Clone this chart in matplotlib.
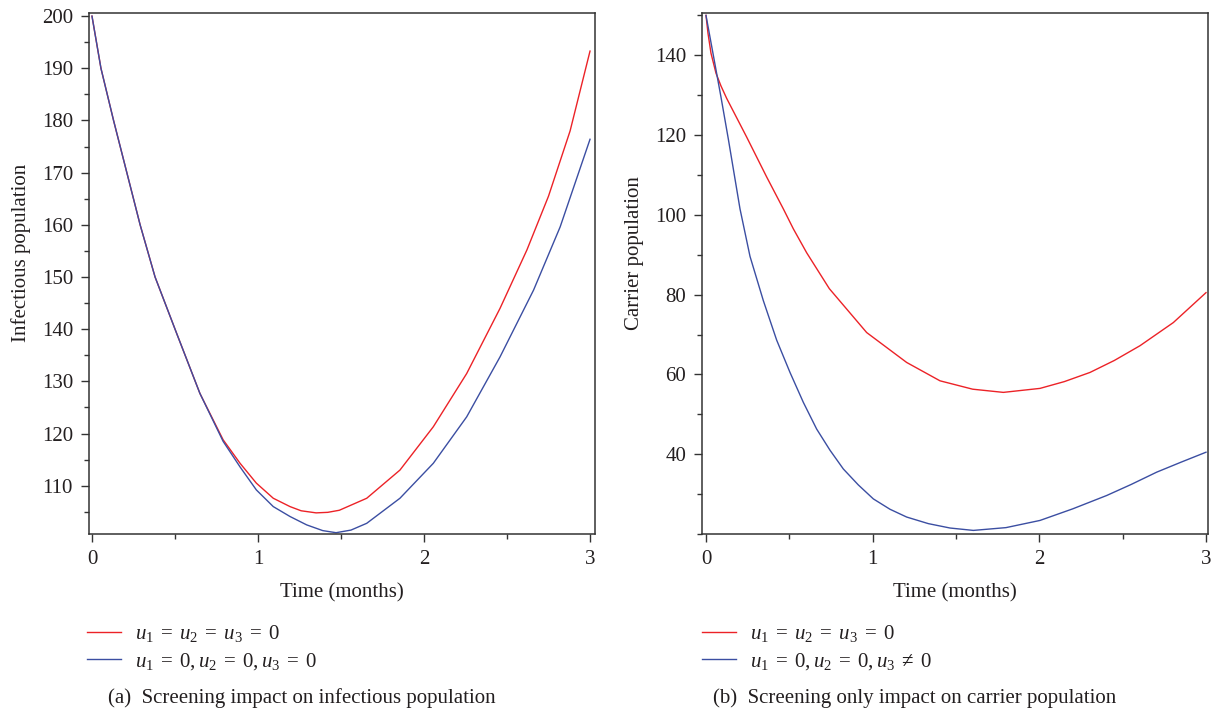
import matplotlib
matplotlib.use("Agg")
import matplotlib.pyplot as plt
from matplotlib.ticker import MultipleLocator

plt.rcParams['font.family'] = ['Liberation Serif', 'DejaVu Serif']
plt.rcParams['mathtext.fontset'] = 'custom'
plt.rcParams['mathtext.rm'] = 'Liberation Serif'
plt.rcParams['mathtext.it'] = 'Liberation Serif:italic'

# ---------------- data ----------------
# (a) infectious population
t_a_red = [0, 0.054, 0.13, 0.21, 0.29, 0.38, 0.51, 0.65, 0.79, 0.892, 0.99, 1.092,
           1.193, 1.26, 1.35, 1.42, 1.49, 1.655, 1.855, 2.056, 2.257, 2.458, 2.62,
           2.75, 2.88, 3.0]
infect_red = [200, 190, 180, 170, 160, 150, 139.2, 127.7, 118.8, 114.3, 110.5, 107.6,
              106.0, 105.2, 104.8, 104.9, 105.3, 107.6, 113.0, 121.3, 131.5, 144.0, 155.2,
              165.5, 178.0, 193.3]
t_a_blue = [0, 0.054, 0.13, 0.21, 0.29, 0.38, 0.51, 0.65, 0.79, 0.892, 0.99, 1.092,
            1.193, 1.293, 1.39, 1.47, 1.56, 1.655, 1.855, 2.056, 2.257, 2.458,
            2.66, 2.82, 3.0]
infect_blue = [200, 190, 180, 170, 160, 150, 139.2, 127.7, 118.5, 113.6, 109.2, 106.0,
               104.1, 102.5, 101.4, 101.0, 101.5, 102.8, 107.6, 114.3, 123.2, 134.7,
               147.5, 159.6, 176.4]

# (b) carrier population
t_b_red = [0, 0.012, 0.03, 0.06, 0.09, 0.124, 0.244, 0.364, 0.464, 0.524, 0.604, 0.74,
           0.964, 1.204, 1.404, 1.6, 1.784, 2.004, 2.15, 2.304, 2.45, 2.604, 2.804, 3.0]
carrier_red = [150, 145.5, 140.5, 135.5, 132.3, 129.2, 119.5, 109.5, 101.5, 96.5, 90.5, 81.5,
               70.5, 63.0, 58.4, 56.3, 55.5, 56.5, 58.2, 60.5, 63.5, 67.2, 73.0, 80.5]
t_b_blue = [0, 0.044, 0.09, 0.134, 0.17, 0.204, 0.264, 0.344, 0.424, 0.504, 0.584,
            0.664, 0.744, 0.824, 0.914, 1.004, 1.104, 1.204, 1.334, 1.464, 1.604,
            1.8, 2.004, 2.2, 2.404, 2.55, 2.704, 2.85, 3.0]
carrier_blue = [150, 140, 129.5, 119, 110, 101.5, 89.6, 78.5, 68.6, 60.5, 53,
                46.3, 41, 36.3, 32.3, 28.8, 26.2, 24.25, 22.6, 21.5, 20.9,
                21.6, 23.4, 26.3, 29.65, 32.4, 35.5, 38, 40.5]

labels_a = [r'$u_1\;=\;u_2\;=\;u_3\;=\;0$', r'$u_1\;=\;0, u_2\;=\;0, u_3\;=\;0$']
labels_b = [r'$u_1\;=\;u_2\;=\;u_3\;=\;0$', r'$u_1\;=\;0, u_2\;=\;0, u_3\;\neq\;0$']
ylabels = ['Infectious population', 'Carrier population']
captions = ['(a)  Screening impact on infectious population',
            '(b)  Screening only impact on carrier population']
xlabel = 'Time (months)'

RED = '#ec2227'
BLUE = '#3b4ea2'
TXT = '#231f20'
SP = '#333333'
FS = 15

W, H = 1213, 714
fig = plt.figure(figsize=(W / 100, H / 100), dpi=100)

def frac(x0, y0, x1, y1):
    return [x0 / W, 1 - y1 / H, (x1 - x0) / W, (y1 - y0) / H]

axA = fig.add_axes(frac(89, 13, 595, 534))
axB = fig.add_axes(frac(702, 13, 1208, 534))

lA1, = axA.plot(t_a_red, infect_red, color=RED, lw=1.0)
lA2, = axA.plot(t_a_blue, infect_blue, color=BLUE, lw=1.0)
lB1, = axB.plot(t_b_red, carrier_red, color=RED, lw=1.0)
lB2, = axB.plot(t_b_blue, carrier_blue, color=BLUE, lw=1.0)

axA.set_xlim(-0.018, 3.03)
axA.set_ylim(100.75, 200.6)
axA.set_yticks([110, 120, 130, 140, 150, 160, 170, 180, 190, 200])
axA.yaxis.set_minor_locator(MultipleLocator(5))

axB.set_xlim(-0.024, 3.012)
axB.set_ylim(20, 150.6)
axB.set_yticks([40, 60, 80, 100, 120, 140])
axB.yaxis.set_minor_locator(MultipleLocator(10))

label_x = [-0.134, -0.134]
for ax, yl, lx in zip([axA, axB], ylabels, label_x):
    ax.set_xticks([0, 1, 2, 3])
    ax.xaxis.set_minor_locator(MultipleLocator(0.5))
    ax.tick_params(which='both', direction='out', top=False, right=False,
                   colors=SP, labelcolor=TXT, labelsize=FS, width=1.0)
    ax.tick_params(which='major', length=5.5, pad=6)
    ax.tick_params(which='minor', length=3.5)
    for s in ax.spines.values():
        s.set_color(SP)
        s.set_linewidth(1.1)
    ax.set_xlabel(xlabel, fontsize=FS, color=TXT, va='center')
    ax.xaxis.set_label_coords(0.5, -0.113)
    ax.set_ylabel(yl, fontsize=FS, color=TXT, va='center')
    ax.yaxis.set_label_coords(lx, 0.54)

leg_kw = dict(loc='upper left', frameon=False, fontsize=FS, handlelength=1.63,
              handletextpad=0.67, labelspacing=0.32, borderpad=0, borderaxespad=0)
legA = fig.legend([lA1, lA2], labels_a, bbox_to_anchor=(87 / W, 1 - 623 / H), **leg_kw)
legB = fig.legend([lB1, lB2], labels_b, bbox_to_anchor=(702 / W, 1 - 623 / H), **leg_kw)
for leg in (legA, legB):
    for tx in leg.get_texts():
        tx.set_color(TXT)

fig.text(108 / W, 1 - 698 / H, captions[0], fontsize=FS, color=TXT, va='center', ha='left')
fig.text(713 / W, 1 - 698 / H, captions[1], fontsize=FS, color=TXT, va='center', ha='left')

fig.savefig('out.png', dpi=100)
